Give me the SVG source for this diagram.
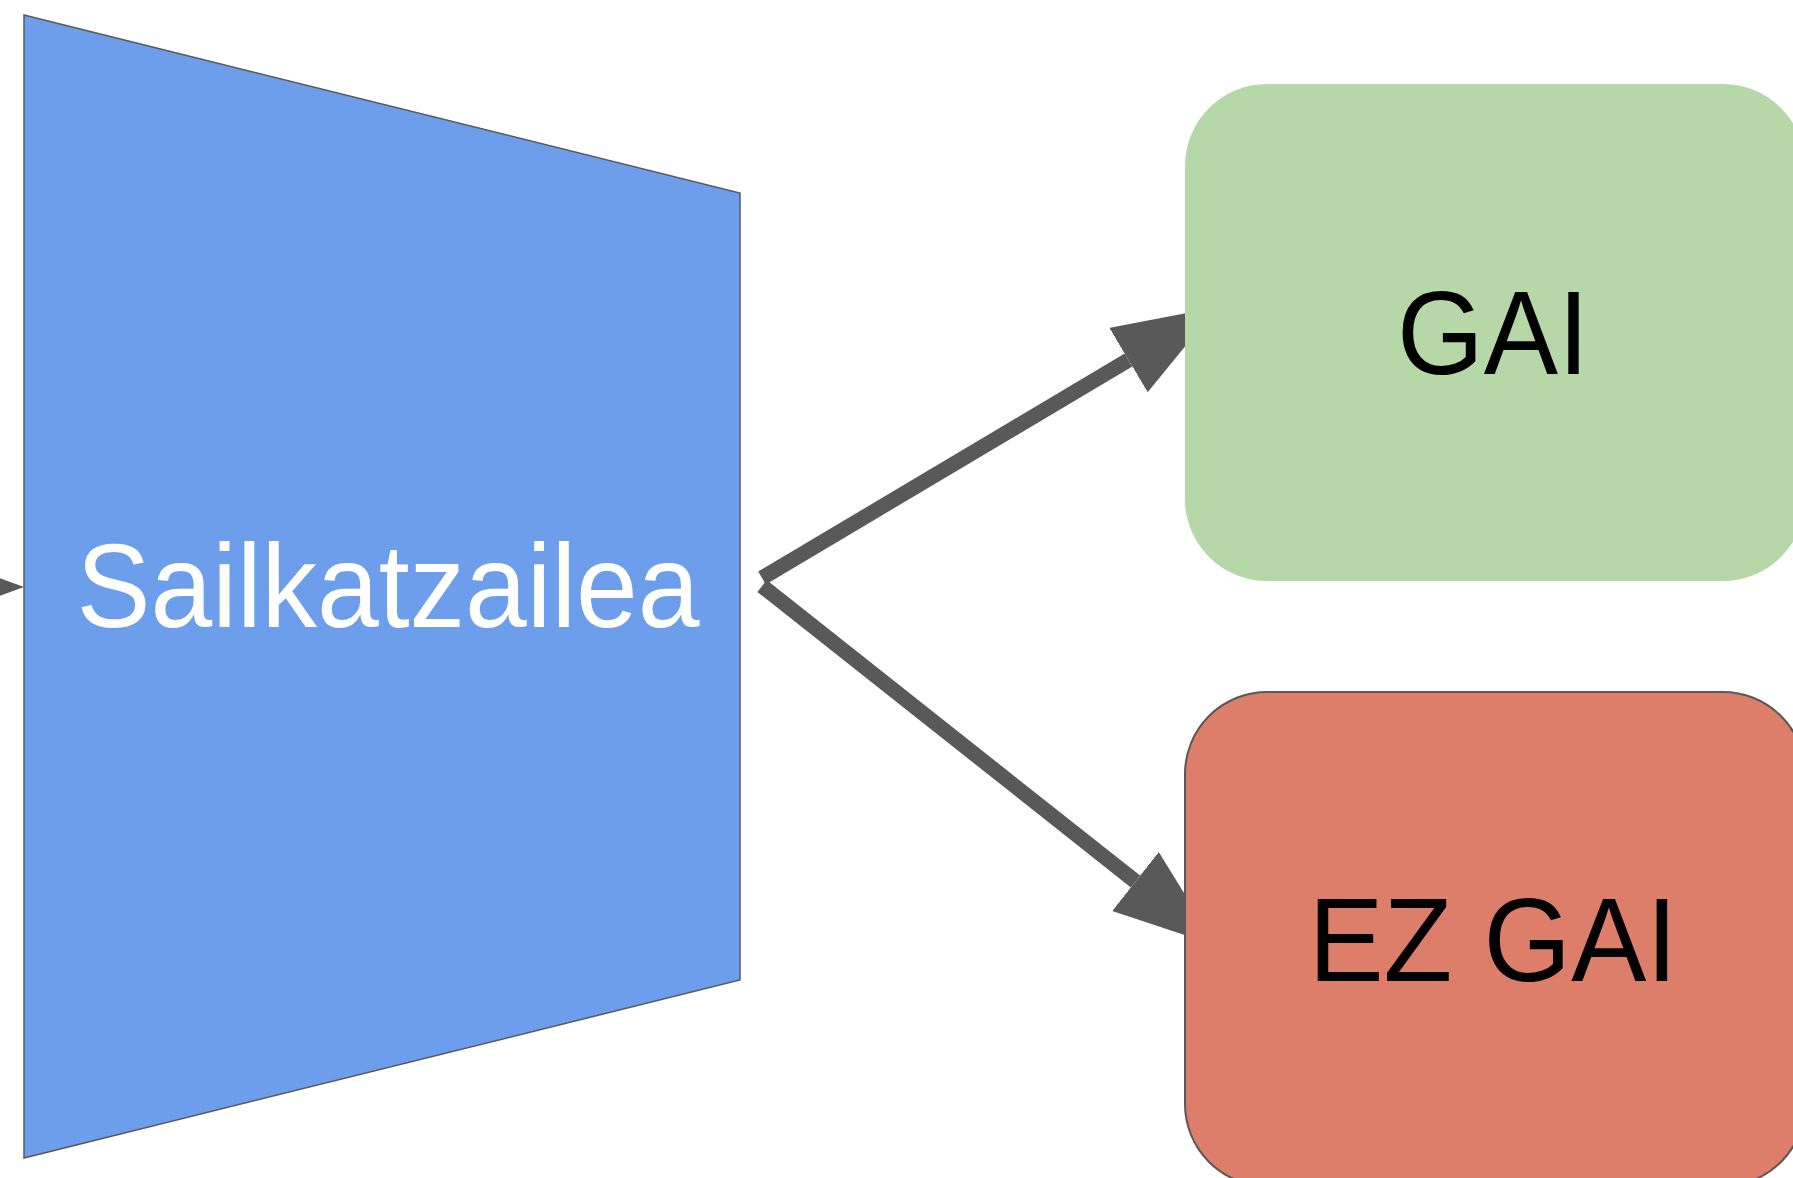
<svg xmlns="http://www.w3.org/2000/svg" width="1793" height="1178" viewBox="0 0 1793 1178">
<style>
.conn{stroke:#595959;stroke-width:15;fill:none}
.lbl{font-family:"Liberation Sans",Arial,sans-serif;font-size:118px;text-anchor:middle}
</style>
<defs>
<marker id="ah" markerUnits="userSpaceOnUse" markerWidth="104" markerHeight="76" refX="0" refY="37.5" orient="auto" viewBox="0 0 104 76">
<path d="M0,0 L103,37.5 L0,75 z" fill="#595959"/>
</marker>
</defs>
<rect width="1793" height="1178" fill="#ffffff"/>
<g id="connectors">
<line class="conn" x1="-120" y1="587" x2="-79" y2="587" marker-end="url(#ah)"/>
<line class="conn" x1="762" y1="578" x2="1128.5" y2="360" marker-end="url(#ah)"/>
<line class="conn" x1="762" y1="586" x2="1135.5" y2="881.5" marker-end="url(#ah)"/>
</g>
<g id="classifier">
<polygon points="24,15 740,193 740,980 24,1158" fill="#6d9eeb" stroke="#595959" stroke-width="1.5"/>
<text class="lbl" x="388" y="627" fill="#ffffff" textLength="623" lengthAdjust="spacingAndGlyphs">Sailkatzailea</text>
</g>
<g id="gai">
<rect x="1185" y="84" width="620" height="497" rx="82" ry="82" fill="#b6d7a8"/>
<text class="lbl" x="1493" y="374" fill="#000000" textLength="192" lengthAdjust="spacingAndGlyphs">GAI</text>
</g>
<g id="ezgai">
<rect x="1185" y="692" width="620" height="494" rx="82" ry="82" fill="#dd7e6b" stroke="#595959" stroke-width="2"/>
<text class="lbl" x="1493" y="981" fill="#000000" textLength="369" lengthAdjust="spacingAndGlyphs">EZ GAI</text>
</g>
</svg>
